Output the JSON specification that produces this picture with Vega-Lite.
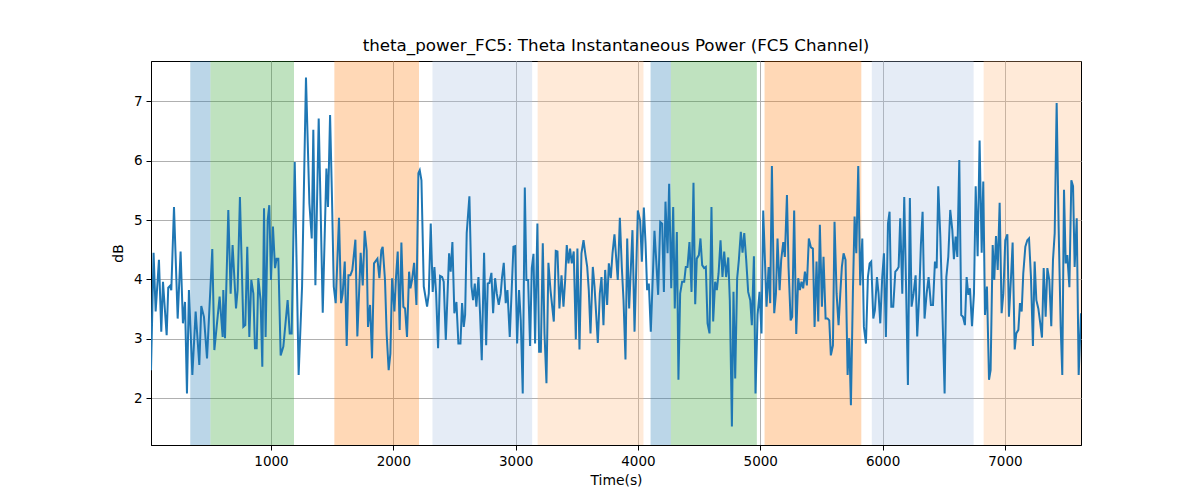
{
  "$schema": "https://vega.github.io/schema/vega-lite/v6.json",
  "width": 930,
  "height": 384,
  "autosize": {"type": "none"},
  "padding": {"left": 151, "top": 61, "right": 119, "bottom": 55},
  "background": "white",
  "title": {"text": "theta_power_FC5: Theta Instantaneous Power (FC5 Channel)", "fontSize": 16.7, "font": "DejaVu Sans", "fontWeight": "normal", "color": "black", "anchor": "middle", "offset": 6},
  "config": {
    "font": "DejaVu Sans",
    "view": {"stroke": "black", "strokeWidth": 1},
    "axis": {"grid": true, "gridColor": "#b0b0b0", "gridWidth": 1, "domainColor": "black", "tickColor": "black", "tickSize": 5, "labelFontSize": 13.5, "labelColor": "black", "labelPadding": 4, "titleFontSize": 13.9, "titleFontWeight": "normal", "titleColor": "black", "labelFlush": false}
  },
  "datasets": {
    "regions": [
      {"start": 340, "end": 505, "kind": "A"},
      {"start": 505, "end": 1188, "kind": "B"},
      {"start": 1518, "end": 2210, "kind": "C"},
      {"start": 2320, "end": 3135, "kind": "D"},
      {"start": 3180, "end": 4045, "kind": "E"},
      {"start": 4103, "end": 4269, "kind": "A"},
      {"start": 4269, "end": 4972, "kind": "B"},
      {"start": 5035, "end": 5826, "kind": "C"},
      {"start": 5912, "end": 6744, "kind": "D"},
      {"start": 6826, "end": 7622, "kind": "E"}
    ],
    "power": [
      {"t":19,"v":2.47},{"t":40,"v":4.45},{"t":57,"v":3.46},{"t":84,"v":4.33},{"t":103,"v":3.12},{"t":117,"v":3.96},{"t":147,"v":3.06},{"t":160,"v":3.86},{"t":174,"v":3.89},{"t":185,"v":3.82},{"t":207,"v":5.22},{"t":237,"v":3.34},{"t":261,"v":4.47},{"t":280,"v":3.26},{"t":297,"v":3.62},{"t":313,"v":2.08},{"t":329,"v":3.82},{"t":357,"v":2.39},{"t":384,"v":3.46},{"t":414,"v":2.56},{"t":430,"v":3.55},{"t":452,"v":3.37},{"t":477,"v":2.67},{"t":520,"v":4.51},{"t":537,"v":2.81},{"t":580,"v":3.71},{"t":605,"v":3.03},
      {"t":610,"v":3.82},{"t":624,"v":3.01},{"t":651,"v":5.17},{"t":670,"v":3.76},{"t":686,"v":4.58},{"t":714,"v":3.51},{"t":727,"v":3.82},{"t":746,"v":5.39},{"t":774,"v":3.20},{"t":790,"v":3.23},{"t":806,"v":4.55},{"t":823,"v":3.03},{"t":839,"v":3.99},{"t":856,"v":3.76},{"t":869,"v":2.84},{"t":883,"v":2.84},{"t":896,"v":4.02},{"t":915,"v":3.65},{"t":929,"v":2.53},{"t":943,"v":5.20},{"t":956,"v":3.03},{"t":973,"v":5.00},{"t":986,"v":5.25},{"t":1000,"v":3.99},{"t":1016,"v":4.89},{"t":1033,"v":4.19},{"t":1046,"v":4.35},{"t":1060,"v":4.35},{"t":1079,"v":2.72},{"t":1101,"v":2.87},{"t":1136,"v":3.65},{"t":1153,"v":3.09},{"t":1169,"v":3.09},{"t":1194,"v":5.98},{"t":1226,"v":2.39},{"t":1254,"v":3.88},
      {"t":1286,"v":7.40},{"t":1314,"v":5.28},{"t":1333,"v":4.69},{"t":1346,"v":6.52},{"t":1363,"v":3.90},{"t":1390,"v":6.71},{"t":1406,"v":5.17},{"t":1423,"v":3.44},{"t":1453,"v":5.87},{"t":1466,"v":5.22},{"t":1483,"v":6.77},{"t":1499,"v":5.34},{"t":1513,"v":3.88},{"t":1529,"v":3.60},{"t":1556,"v":5.04},{"t":1573,"v":3.60},{"t":1586,"v":3.76},{"t":1603,"v":4.30},{"t":1619,"v":2.88},{"t":1633,"v":4.07},{"t":1649,"v":4.07},{"t":1665,"v":4.16},{"t":1690,"v":4.67},{"t":1706,"v":3.04},{"t":1733,"v":4.45},{"t":1750,"v":3.90},{"t":1766,"v":4.82},{"t":1782,"v":4.49},{"t":1793,"v":3.20},{"t":1810,"v":3.57},{"t":1826,"v":2.67},{"t":1842,"v":4.27},{"t":1870,"v":4.35},{"t":1886,"v":4.02},{"t":1902,"v":4.49},
      {"t":1913,"v":4.55},{"t":1932,"v":3.99},{"t":1946,"v":3.06},{"t":1962,"v":2.47},{"t":1976,"v":2.75},{"t":1990,"v":4.02},{"t":2009,"v":3.46},{"t":2022,"v":4.04},{"t":2036,"v":4.47},{"t":2052,"v":3.15},{"t":2066,"v":4.62},{"t":2082,"v":3.54},{"t":2096,"v":3.51},{"t":2112,"v":3.03},{"t":2129,"v":4.13},{"t":2140,"v":3.85},{"t":2153,"v":3.99},{"t":2170,"v":4.28},{"t":2189,"v":3.57},{"t":2205,"v":5.79},{"t":2216,"v":5.84},{"t":2230,"v":5.67},{"t":2249,"v":3.88},{"t":2276,"v":3.54},{"t":2290,"v":3.76},{"t":2306,"v":4.94},{"t":2322,"v":3.79},{"t":2336,"v":4.21},{"t":2350,"v":3.76},{"t":2366,"v":2.84},{"t":2382,"v":4.06},{"t":2399,"v":4.04},{"t":2412,"v":3.96},{"t":2429,"v":2.98},{"t":2456,"v":4.44},{"t":2469,"v":4.13},{"t":2483,"v":4.63},{"t":2499,"v":3.43},{"t":2516,"v":3.62},{"t":2532,"v":2.92},{"t":2549,"v":2.92},
      {"t":2562,"v":3.60},{"t":2576,"v":3.20},{"t":2587,"v":3.40},{"t":2600,"v":4.78},{"t":2622,"v":5.40},{"t":2639,"v":3.88},{"t":2652,"v":3.65},{"t":2666,"v":3.93},{"t":2679,"v":3.54},{"t":2696,"v":4.04},{"t":2709,"v":3.43},{"t":2723,"v":2.64},{"t":2742,"v":4.45},{"t":2759,"v":2.89},{"t":2772,"v":3.93},{"t":2786,"v":3.94},{"t":2802,"v":4.11},{"t":2816,"v":3.43},{"t":2832,"v":4.02},{"t":2846,"v":3.76},{"t":2862,"v":3.57},{"t":2878,"v":3.76},{"t":2889,"v":4.04},{"t":2903,"v":4.28},{"t":2919,"v":3.60},{"t":2933,"v":3.82},{"t":2952,"v":3.03},{"t":2982,"v":4.55},{"t":2996,"v":4.56},{"t":3012,"v":2.92},{"t":3028,"v":3.82},{"t":3042,"v":3.31},{"t":3058,"v":2.08},{"t":3075,"v":5.55},{"t":3088,"v":3.99},{"t":3102,"v":3.99},{"t":3118,"v":2.88},{"t":3132,"v":4.19},{"t":3146,"v":4.43},{"t":3159,"v":2.92},{"t":3178,"v":4.94},
      {"t":3192,"v":2.78},{"t":3206,"v":2.78},{"t":3222,"v":4.61},{"t":3236,"v":3.09},{"t":3252,"v":2.25},{"t":3268,"v":4.28},{"t":3285,"v":3.82},{"t":3312,"v":3.29},{"t":3328,"v":4.48},{"t":3342,"v":4.47},{"t":3358,"v":3.51},{"t":3375,"v":4.07},{"t":3391,"v":3.54},{"t":3405,"v":3.99},{"t":3418,"v":4.58},{"t":3432,"v":4.27},{"t":3445,"v":4.52},{"t":3459,"v":4.27},{"t":3475,"v":4.47},{"t":3492,"v":2.99},{"t":3505,"v":4.52},{"t":3522,"v":2.82},{"t":3538,"v":4.44},{"t":3555,"v":4.66},{"t":3571,"v":4.41},{"t":3585,"v":4.21},{"t":3598,"v":3.82},{"t":3612,"v":3.09},{"t":3631,"v":4.21},{"t":3645,"v":3.88},{"t":3672,"v":2.93},{"t":3688,"v":3.76},{"t":3702,"v":4.04},{"t":3718,"v":3.23},{"t":3732,"v":4.16},{"t":3748,"v":3.57},{"t":3762,"v":4.27},{"t":3778,"v":4.02},{"t":3792,"v":4.44},{"t":3808,"v":4.76},
      {"t":3835,"v":3.99},{"t":3852,"v":5.04},{"t":3868,"v":4.21},{"t":3882,"v":3.65},{"t":3898,"v":2.65},{"t":3912,"v":4.69},{"t":3928,"v":3.51},{"t":3955,"v":4.83},{"t":3972,"v":3.12},{"t":3999,"v":5.16},{"t":4018,"v":4.99},{"t":4032,"v":4.30},{"t":4048,"v":5.21},{"t":4062,"v":4.61},{"t":4075,"v":3.82},{"t":4089,"v":3.93},{"t":4105,"v":3.12},{"t":4135,"v":4.82},{"t":4149,"v":4.33},{"t":4165,"v":3.74},{"t":4182,"v":4.97},{"t":4198,"v":4.94},{"t":4212,"v":3.79},{"t":4225,"v":5.31},{"t":4242,"v":4.44},{"t":4255,"v":5.61},{"t":4272,"v":3.85},{"t":4288,"v":5.22},{"t":4301,"v":3.51},{"t":4318,"v":4.80},{"t":4331,"v":2.31},{"t":4345,"v":3.76},{"t":4361,"v":3.96},{"t":4378,"v":3.96},{"t":4391,"v":4.21},{"t":4405,"v":4.21},{"t":4421,"v":4.63},{"t":4438,"v":3.79},{"t":4454,"v":5.63},
      {"t":4468,"v":3.58},{"t":4481,"v":4.35},{"t":4498,"v":4.41},{"t":4511,"v":4.69},{"t":4525,"v":4.24},{"t":4541,"v":4.19},{"t":4555,"v":4.21},{"t":4569,"v":3.26},{"t":4585,"v":3.09},{"t":4601,"v":5.22},{"t":4615,"v":3.29},{"t":4631,"v":3.96},{"t":4645,"v":3.82},{"t":4659,"v":4.10},{"t":4675,"v":4.66},{"t":4691,"v":4.04},{"t":4705,"v":4.47},{"t":4721,"v":4.04},{"t":4738,"v":4.37},{"t":4751,"v":3.65},{"t":4768,"v":1.52},{"t":4781,"v":3.79},{"t":4795,"v":2.33},{"t":4811,"v":4.02},{"t":4825,"v":4.33},{"t":4841,"v":4.80},{"t":4855,"v":4.45},{"t":4869,"v":4.78},{"t":4885,"v":4.33},{"t":4901,"v":3.79},{"t":4918,"v":3.65},{"t":4931,"v":3.23},{"t":4948,"v":4.39},{"t":4961,"v":2.08},{"t":4978,"v":3.40},{"t":4994,"v":3.79},{"t":5010,"v":3.09},{"t":5024,"v":5.16},{"t":5038,"v":4.33},{"t":5051,"v":3.54},{"t":5068,"v":4.21},{"t":5081,"v":3.60},{"t":5095,"v":5.91},
      {"t":5114,"v":3.43},{"t":5128,"v":3.76},{"t":5141,"v":4.69},{"t":5158,"v":3.82},{"t":5171,"v":4.33},{"t":5188,"v":4.63},{"t":5201,"v":4.38},{"t":5218,"v":5.42},{"t":5231,"v":4.21},{"t":5248,"v":3.31},{"t":5261,"v":3.37},{"t":5277,"v":5.16},{"t":5294,"v":3.08},{"t":5310,"v":4.02},{"t":5324,"v":3.82},{"t":5337,"v":3.96},{"t":5351,"v":3.85},{"t":5365,"v":4.13},{"t":5381,"v":3.90},{"t":5397,"v":4.69},{"t":5414,"v":4.54},{"t":5430,"v":4.52},{"t":5444,"v":3.20},{"t":5460,"v":4.30},{"t":5474,"v":3.29},{"t":5487,"v":4.92},{"t":5504,"v":3.54},{"t":5517,"v":4.38},{"t":5534,"v":3.34},{"t":5550,"v":3.34},{"t":5564,"v":3.31},{"t":5577,"v":2.72},{"t":5594,"v":2.89},{"t":5607,"v":4.97},{"t":5624,"v":3.76},{"t":5640,"v":3.23},{"t":5654,"v":3.76},{"t":5667,"v":4.21},{"t":5681,"v":4.44},{"t":5697,"v":4.33},{"t":5714,"v":2.39},{"t":5727,"v":3.01},{"t":5741,"v":1.88},
      {"t":5757,"v":3.76},{"t":5771,"v":5.06},{"t":5785,"v":4.44},{"t":5801,"v":5.91},{"t":5817,"v":3.90},{"t":5834,"v":4.69},{"t":5847,"v":3.20},{"t":5864,"v":2.92},{"t":5880,"v":4.04},{"t":5894,"v":4.27},{"t":5907,"v":4.30},{"t":5924,"v":3.34},{"t":5937,"v":3.48},{"t":5954,"v":4.04},{"t":5967,"v":3.76},{"t":5981,"v":3.26},{"t":5997,"v":4.04},{"t":6011,"v":4.44},{"t":6027,"v":3.03},{"t":6044,"v":4.94},{"t":6057,"v":5.14},{"t":6071,"v":3.54},{"t":6087,"v":3.54},{"t":6104,"v":4.13},{"t":6117,"v":4.16},{"t":6131,"v":4.21},{"t":6144,"v":5.03},{"t":6161,"v":3.76},{"t":6177,"v":5.39},{"t":6193,"v":3.76},{"t":6207,"v":2.22},{"t":6223,"v":5.37},{"t":6237,"v":3.54},{"t":6253,"v":3.76},{"t":6270,"v":4.07},{"t":6283,"v":3.04},{"t":6300,"v":3.76},{"t":6313,"v":4.58},{"t":6327,"v":5.14},{"t":6343,"v":3.34},{"t":6360,"v":3.76},{"t":6376,"v":4.04},
      {"t":6395,"v":3.57},{"t":6412,"v":3.57},{"t":6428,"v":4.30},{"t":6442,"v":4.19},{"t":6455,"v":5.57},{"t":6472,"v":4.72},{"t":6485,"v":3.76},{"t":6507,"v":2.08},{"t":6521,"v":4.04},{"t":6537,"v":4.38},{"t":6553,"v":5.17},{"t":6570,"v":4.83},{"t":6583,"v":4.34},{"t":6597,"v":4.72},{"t":6611,"v":4.38},{"t":6627,"v":6.01},{"t":6643,"v":3.40},{"t":6657,"v":3.37},{"t":6673,"v":3.23},{"t":6687,"v":4.04},{"t":6701,"v":3.74},{"t":6714,"v":3.85},{"t":6731,"v":3.21},{"t":6747,"v":3.76},{"t":6761,"v":5.57},{"t":6777,"v":4.39},{"t":6793,"v":6.34},{"t":6810,"v":4.45},{"t":6823,"v":5.65},{"t":6837,"v":3.40},{"t":6853,"v":3.88},{"t":6870,"v":2.31},{"t":6883,"v":2.47},{"t":6900,"v":4.58},{"t":6913,"v":3.99},{"t":6927,"v":4.73},{"t":6941,"v":4.16},{"t":6957,"v":5.29},{"t":6973,"v":3.43},{"t":6987,"v":3.76},{"t":7003,"v":4.66},
      {"t":7020,"v":4.76},{"t":7033,"v":3.37},{"t":7050,"v":4.04},{"t":7063,"v":4.62},{"t":7080,"v":2.82},{"t":7093,"v":3.09},{"t":7110,"v":3.15},{"t":7123,"v":3.60},{"t":7137,"v":3.46},{"t":7150,"v":4.10},{"t":7167,"v":4.55},{"t":7183,"v":4.66},{"t":7197,"v":4.69},{"t":7213,"v":4.04},{"t":7229,"v":2.88},{"t":7243,"v":4.30},{"t":7257,"v":3.65},{"t":7273,"v":3.51},{"t":7289,"v":3.26},{"t":7303,"v":3.02},{"t":7317,"v":4.19},{"t":7333,"v":3.37},{"t":7347,"v":4.19},{"t":7363,"v":3.99},{"t":7379,"v":3.21},{"t":7393,"v":4.33},{"t":7407,"v":4.78},{"t":7423,"v":6.97},{"t":7439,"v":4.89},{"t":7456,"v":3.20},{"t":7469,"v":2.39},{"t":7483,"v":5.51},{"t":7497,"v":4.27},{"t":7510,"v":4.41},{"t":7527,"v":3.87},{"t":7543,"v":5.67},{"t":7557,"v":5.57},{"t":7570,"v":4.21},{"t":7587,"v":5.03},{"t":7603,"v":2.39},{"t":7622,"v":3.43}
    ]
  },
  "layer": [
    {
      "data": {"name": "regions"},
      "mark": {"type": "rect", "clip": true, "opacity": 0.3},
      "encoding": {
        "x": {"field": "start", "type": "quantitative", "scale": {"domain": [19, 7622], "nice": false, "zero": false}, "axis": {"title": "Time(s)", "values": [1000, 2000, 3000, 4000, 5000, 6000, 7000], "format": "d", "titlePadding": 6}},
        "x2": {"field": "end"},
        "color": {"field": "kind", "type": "nominal", "scale": {"domain": ["A", "B", "C", "D", "E"], "range": ["#1f77b4", "#2ca02c", "#ff7f0e", "#a8c0e1", "#ffb97d"]}, "legend": null}
      }
    },
    {
      "data": {"name": "power"},
      "mark": {"type": "line", "color": "#1f77b4", "strokeWidth": 2, "clip": true},
      "encoding": {
        "x": {"field": "t", "type": "quantitative"},
        "y": {"field": "v", "type": "quantitative", "scale": {"domain": [1.21, 7.68], "nice": false, "zero": false}, "axis": {"title": "dB", "values": [2, 3, 4, 5, 6, 7], "titlePadding": 8}}
      }
    }
  ]
}
